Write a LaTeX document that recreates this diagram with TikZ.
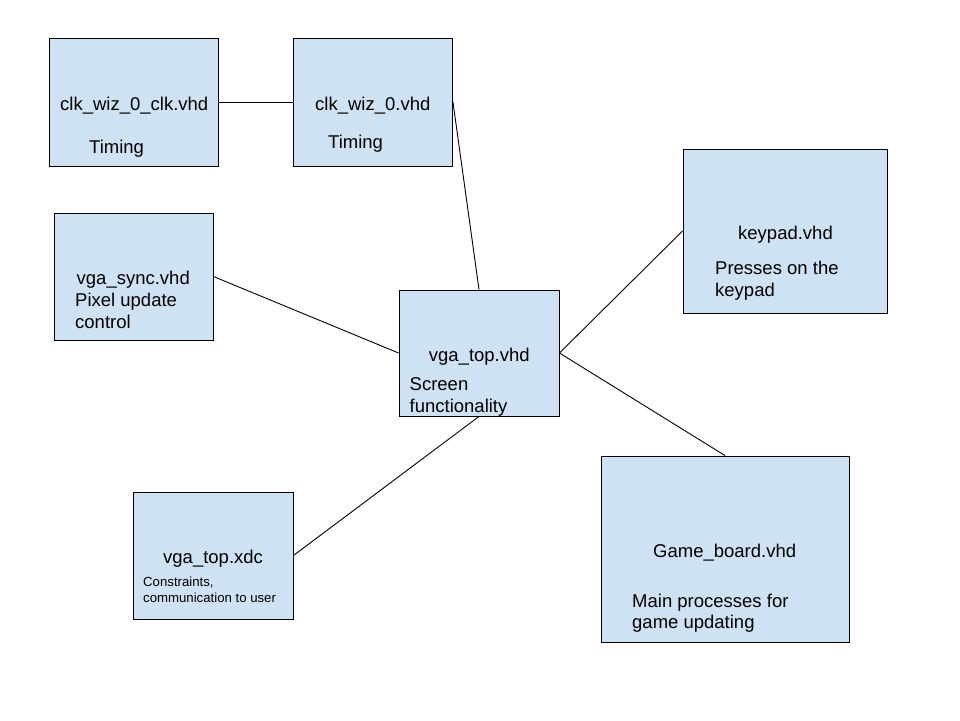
\documentclass[tikz,border=0pt]{standalone}
\usepackage{fontspec}
\setmainfont{Liberation Sans}
\definecolor{BoxBlue}{RGB}{207, 226, 243}
\usetikzlibrary{positioning}

\begin{document}
\begin{tikzpicture}[
        x=1pt, y=-1pt,
        module/.style={rectangle, draw=black, fill=BoxBlue, line width=0.9pt, inner sep=0pt},
        txt/.style={anchor=base west, inner sep=0pt, font=\fontsize{18.5}{22}\selectfont},
        smalltxt/.style={txt, font=\fontsize{13.2}{16}\selectfont},
        line/.style={draw, line width=0.9pt}
    ]
        \useasboundingbox (0,0) rectangle (960,720);

        % module boxes
        \node [module, minimum width=169pt, minimum height=128pt] (clkclk) at (133.5,102) {};
        \node [module, minimum width=159pt, minimum height=128pt] (clkwiz) at (373,102) {};
        \node [module, minimum width=159pt, minimum height=127pt] (vgasync) at (133.5,276.5) {};
        \node [module, minimum width=160pt, minimum height=126pt] (vgatop) at (479,353) {};
        \node [module, minimum width=204pt, minimum height=164pt] (keypad) at (785,231) {};
        \node [module, minimum width=248pt, minimum height=186pt] (board) at (725,549) {};
        \node [module, minimum width=160pt, minimum height=127pt] (xdc) at (213,555.5) {};

        % texts
        \node [txt] (clkclkname) at (60,110) {clk\_wiz\_0\_clk.vhd};
        \node [txt] (clkclkrole) at (89,153) {Timing};
        \node [txt] (clkwizname) at (315,110) {clk\_wiz\_0.vhd};
        \node [txt] (clkwizrole) at (328,148) {Timing};
        \node [txt] (syncname) at (76.5,284.5) {vga\_sync.vhd};
        \node [txt] (syncrole1) at (75,306.5) {Pixel update};
        \node [txt] (syncrole2) at (75,328) {control};
        \node [txt] (topname) at (428.7,361) {vga\_top.vhd};
        \node [txt] (toprole1) at (409.5,390) {Screen};
        \node [txt] (toprole2) at (409.5,412) {functionality};
        \node [txt] (keyname) at (738,239) {keypad.vhd};
        \node [txt] (keyrole1) at (715,274) {Presses on the};
        \node [txt] (keyrole2) at (715,296) {keypad};
        \node [txt] (boardname) at (653,557) {Game\_board.vhd};
        \node [txt] (boardrole1) at (632,607) {Main processes for};
        \node [txt] (boardrole2) at (632,628) {game updating};
        \node [txt] (xdcname) at (163,563) {vga\_top.xdc};
        \node [smalltxt] (xdcrole1) at (143,586) {Constraints,};
        \node [smalltxt] (xdcrole2) at (143,602) {communication to user};

        % connections
        \path [line] (clkclk.east) -- (clkwiz.west);
        \path [line] (clkwiz.east) -- (vgatop.north);
        \path [line] (vgasync.east) -- (vgatop.west);
        \path [line] (vgatop.east) -- (keypad.west);
        \path [line] (vgatop.east) -- (board.north);
        \path [line] (vgatop.south) -- (xdc.east);
    \end{tikzpicture}
\end{document}
